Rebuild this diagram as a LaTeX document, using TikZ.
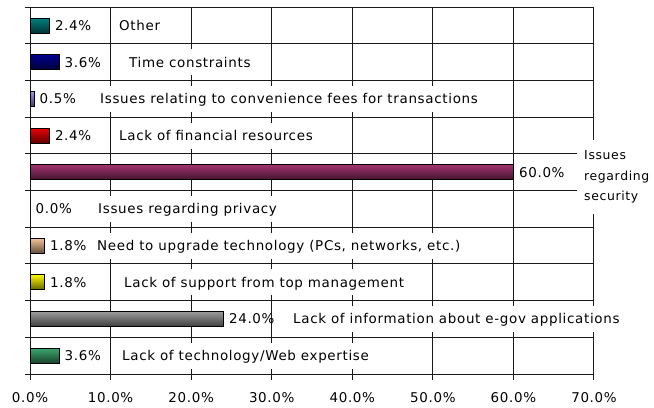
\documentclass[tikz,border=0pt]{standalone}
\usepackage{fontspec}
\setmainfont{DejaVu Sans}[LetterSpace=5]
\usetikzlibrary{positioning}
\definecolor{cOther}{RGB}{0,128,128}
\definecolor{cTime}{RGB}{0,0,140}
\definecolor{cFees}{RGB}{150,150,245}
\definecolor{cMoney}{RGB}{235,0,0}
\definecolor{cSecurity}{RGB}{160,50,110}
\definecolor{cPrivacy}{RGB}{128,128,128}
\definecolor{cUpgrade}{RGB}{245,195,150}
\definecolor{cSupport}{RGB}{250,245,0}
\definecolor{cInfo}{RGB}{155,155,155}
\definecolor{cWeb}{RGB}{60,165,110}
\tikzset{
  % Define grid lines
  grid/.style={
    draw=black!90,
    line width=1bp},
  % Define bar style
  bar/.style={
    draw=black, line width=1bp,
    top color=#1,
    bottom color=#1!40!black},
  % Define value next to a bar
  value/.style={
    anchor=west,
    inner sep=0pt,
    text height=9.8bp, text depth=0pt,
    font=\fontsize{13.5}{16}\selectfont},
  % Define white backed reason
  reason/.style={
    anchor=west,
    fill=white,
    inner xsep=3bp, inner ysep=0pt,
    minimum height=26bp,
    text height=9.8bp, text depth=0pt,
    font=\fontsize{13.5}{16}\selectfont},
  % Define axis label
  axislab/.style={
    inner sep=0pt,
    text height=9.8bp, text depth=0pt,
    font=\fontsize{13.5}{16}\selectfont},
}

\begin{document}
\begin{tikzpicture}[x=1bp, y=-1bp]
  \useasboundingbox (0,0) rectangle (654,407);
  % grid
  \foreach \k in {0,...,7}
    \draw[grid] (30+80.57*\k,7.3) -- (30+80.57*\k,380);
  \foreach \j in {0,...,10}
    \draw[grid] (25,7.3+36.67*\j) -- (594,7.3+36.67*\j);
  % axis labels
  \foreach \k in {0,...,7}
    \node[axislab] (ax\k) at (30+80.57*\k,398) {\ifnum\k=0 0\else\k0\fi.0\%};
  % bars, values and reasons
  \foreach \v/\txt/\col/\lx [count=\i from 0] in {
      2.4/{Other}/cOther/119,
      3.6/{Time constraints}/cTime/129,
      0.5/{Issues relating to convenience fees for transactions}/cFees/100,
      2.4/{Lack of financial resources}/cMoney/119,
      60.0/{}/cSecurity/0,
      0.0/{Issues regarding privacy}/cPrivacy/98,
      1.8/{Need to upgrade technology (PCs, networks, etc.)}/cUpgrade/97,
      1.8/{Lack of support from top management}/cSupport/124,
      24.0/{Lack of information about e-gov applications}/cInfo/293,
      3.6/{Lack of technology/Web expertise}/cWeb/122}{
    \pgfmathsetmacro\yc{7.3+36.67*(\i+0.5)}
    \pgfmathsetmacro\xe{30+8.057*\v}
    \ifdim\v pt>0pt
      \draw[bar=\col] (30,\yc-7.5) rectangle (\xe,\yc+7.5);
    \fi
    \coordinate (end\i) at (\xe,\yc);
    \node[value, right=5.5bp of end\i] (val\i) {\v\%};
    \ifnum\lx>0
      \node[reason] (why\i) at (\lx-3,\yc) {\txt};
    \fi
  }
  \node[reason, align=left, inner xsep=7bp, inner ysep=11bp,
    text height={}, text depth={},
    font=\fontsize{12.5}{20.5}\selectfont] (why4) at (577,177)
    {Issues\\regarding\\security};
\end{tikzpicture}
\end{document}
